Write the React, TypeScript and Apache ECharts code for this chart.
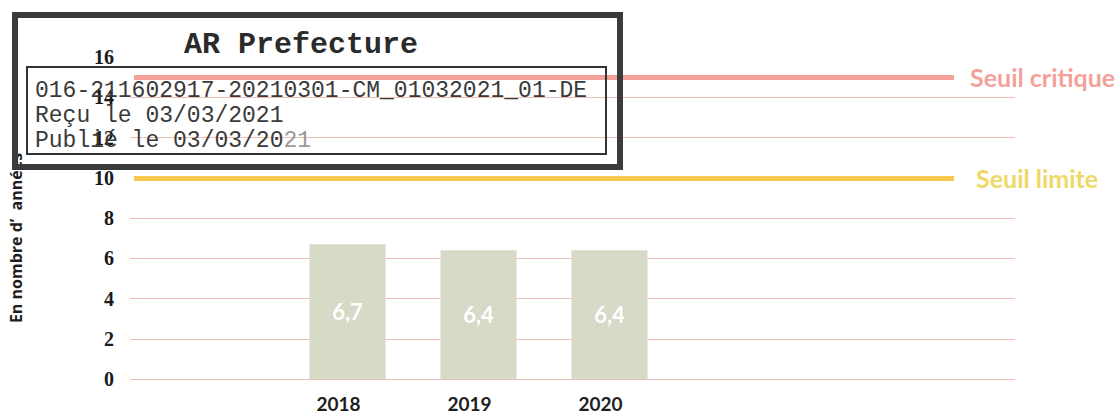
import React, { useEffect, useRef } from "react";
import * as echarts from "echarts";

// ---- data ----
const categories = ["2018", "2019", "2020"];
const values = [6.7, 6.4, 6.4];
const yMin = 0;
const yMax = 16;
const yStep = 2;
const thresholdValues = [15, 10];
const thresholdNames = ["Seuil critique", "Seuil limite"];
const thresholdColors = ["#f4a19b", "#f6c94c"];
const thresholdTextColors = ["#f4a19b", "#efd866"];
const yAxisName = "En nombre d\u2019  ann\u00e9es";
const stampTitle = "AR Prefecture";
const stampLine1 = "016-211602917-20210301-CM_01032021_01-DE";
const stampLine2 = "Re\u00e7u le 03/03/2021";
const stampLine3a = "Publi\u00e9 le 03/03/20";
const stampLine3b = "21";

export default function App() {
  const ref = useRef<HTMLDivElement>(null);

  useEffect(() => {
    if (!ref.current) return;
    const chart = echarts.init(ref.current, null, { renderer: "svg" });

    const gridTop = 57;
    const gridBottom = 35;
    const gl = "#efbdb8";
    const none = "rgba(0,0,0,0)";
    // split line colours for ticks 0,2,4,...,16 (hidden under thresholds / at top)
    const splitColors = [gl, gl, gl, gl, gl, none, gl, gl, none];

    const option: any = {
      animation: false,
      backgroundColor: "#ffffff",
      grid: [
        { left: 123, right: 105, top: gridTop, bottom: gridBottom },
        { left: 282, right: 445, top: gridTop, bottom: gridBottom },
        { left: 134, right: 166, top: gridTop, bottom: gridBottom },
      ],
      xAxis: [
        { gridIndex: 0, type: "value", min: 0, max: 1, show: false },
        {
          gridIndex: 1,
          type: "category",
          data: categories,
          axisLine: { show: false },
          axisTick: { show: false },
          axisLabel: {
            margin: 15,
            color: "#1e1e1e",
            fontFamily: "Lato",
            fontWeight: "bold",
            fontSize: 19,
            padding: [0, 18, 0, 0],
          },
        },
        { gridIndex: 2, type: "value", min: 0, max: 1, show: false },
      ],
      yAxis: [
        {
          gridIndex: 0,
          type: "value",
          min: yMin,
          max: yMax,
          interval: yStep,
          name: yAxisName,
          nameLocation: "middle",
          nameGap: 106,
          nameTextStyle: {
            fontFamily: "Open Sans",
            fontWeight: "bold",
            fontSize: 16,
            color: "#1e1e1e",
            padding: [0, 40, 0, 0],
          },
          axisLine: { show: false },
          axisTick: { show: false },
          axisLabel: {
            margin: 16,
            color: "#1a1a1a",
            fontFamily: "Liberation Serif",
            fontWeight: "bold",
            fontSize: 20,
          },
          splitLine: { show: true, lineStyle: { color: splitColors, width: 1 } },
        },
        { gridIndex: 1, type: "value", min: yMin, max: yMax, interval: yStep, show: false, splitLine: { show: false } },
        { gridIndex: 2, type: "value", min: yMin, max: yMax, interval: yStep, show: false, splitLine: { show: false } },
      ],
      series: [
        {
          type: "bar",
          xAxisIndex: 1,
          yAxisIndex: 1,
          data: values,
          barWidth: 76,
          itemStyle: { color: "#d6dac7" },
          label: {
            show: true,
            position: "inside",
            formatter: (p: any) => String(p.value).replace(".", ","),
            color: "#ffffff",
            fontFamily: "Lato",
            fontWeight: "bold",
            fontSize: 22,
          },
          silent: true,
        },
        {
          type: "line",
          xAxisIndex: 2,
          yAxisIndex: 2,
          data: [],
          markLine: {
            silent: true,
            symbol: ["none", "none"],
            data: thresholdValues.map((v, i) => ({
              yAxis: v,
              lineStyle: { color: thresholdColors[i], width: 5, type: "solid" },
              label: {
                show: true,
                position: "end",
                distance: i === 0 ? 16 : 22,
                formatter: thresholdNames[i],
                color: thresholdTextColors[i],
                fontFamily: "Lato",
                fontWeight: "bold",
                fontSize: 25,
              },
            })),
          },
        },
      ],
      graphic: [
        {
          type: "rect",
          z: 100,
          shape: { x: 15, y: 15, width: 605, height: 152 },
          style: { fill: "none", stroke: "#3b3b3b", lineWidth: 6 },
        },
        {
          type: "rect",
          z: 100,
          shape: { x: 27, y: 67, width: 579, height: 87 },
          style: { fill: "none", stroke: "#333333", lineWidth: 2 },
        },
        {
          type: "text",
          z: 101,
          x: 301,
          y: 45,
          style: {
            text: stampTitle,
            fill: "#2b2b2b",
            font: "bold 30px 'Liberation Mono'",
            textAlign: "center",
            textVerticalAlign: "middle",
          },
        },
        {
          type: "text",
          z: 101,
          x: 35,
          y: 91,
          style: {
            text: stampLine1,
            fill: "#3a3a3a",
            font: "23px 'Liberation Mono'",
            textAlign: "left",
            textVerticalAlign: "middle",
          },
        },
        {
          type: "text",
          z: 101,
          x: 35,
          y: 116,
          style: {
            text: stampLine2,
            fill: "#3a3a3a",
            font: "23px 'Liberation Mono'",
            textAlign: "left",
            textVerticalAlign: "middle",
          },
        },
        {
          type: "text",
          z: 101,
          x: 35,
          y: 141,
          style: {
            text: "{a|" + stampLine3a + "}{b|" + stampLine3b + "}",
            textAlign: "left",
            textVerticalAlign: "middle",
            rich: {
              a: { fill: "#3a3a3a", font: "23px 'Liberation Mono'" },
              b: { fill: "#9a9a9a", font: "23px 'Liberation Mono'" },
            },
          },
        },
      ],
    };

    chart.setOption(option);
    return () => chart.dispose();
  }, []);

  return (
    <div
      ref={ref}
      style={{ position: "fixed", left: 0, top: 0, width: 1120, height: 414, background: "#fff" }}
    />
  );
}
